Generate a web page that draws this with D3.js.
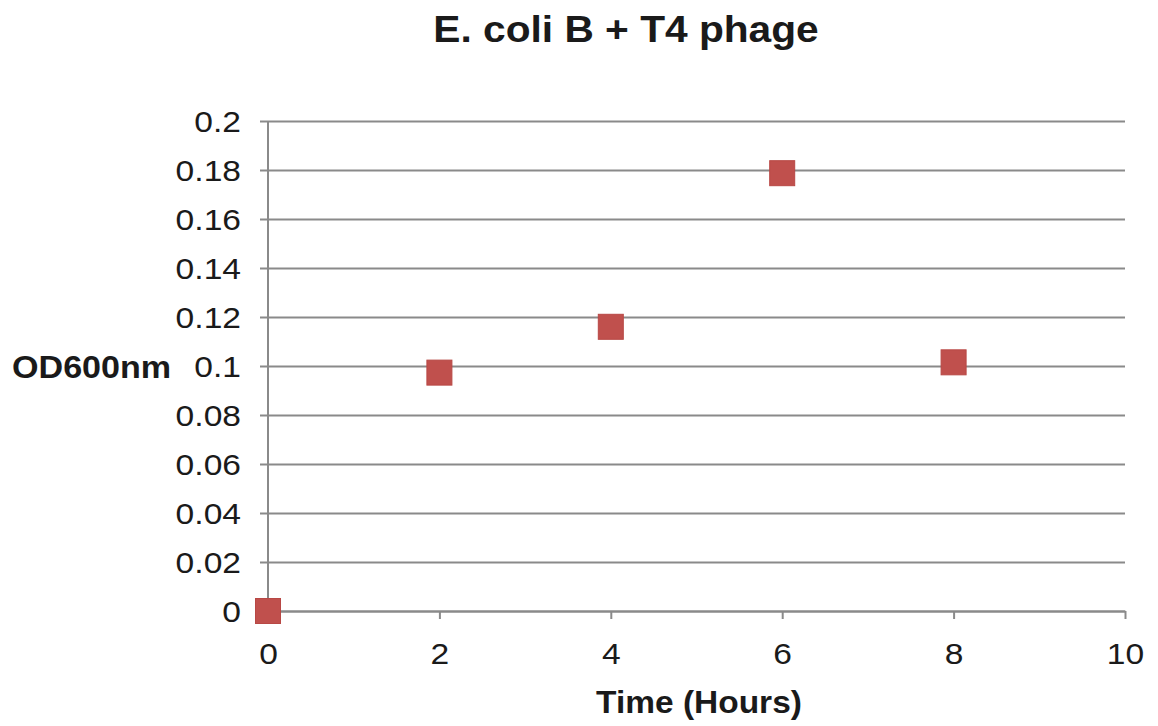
<!DOCTYPE html>
<html><head><meta charset="utf-8">
<script src="https://cdn.jsdelivr.net/npm/d3@7"></script>
<style>
html,body{margin:0;padding:0;background:#fff;}
text{font-family:"Liberation Sans",Arial,sans-serif;fill:#1a1a1a;}
</style></head>
<body>
<svg id="chart" width="1158" height="726"></svg>
<script>
const title = "E. coli B + T4 phage";
const xLabel = "Time (Hours)";
const yLabel = "OD600nm";
const times = [0, 2, 4, 6, 8];
const od = [0, 0.0973, 0.116, 0.1787, 0.1015];
const xTicks = [0, 2, 4, 6, 8, 10];
const yTicks = [0, 0.02, 0.04, 0.06, 0.08, 0.1, 0.12, 0.14, 0.16, 0.18, 0.2];
const yTickLabels = ["0","0.02","0.04","0.06","0.08","0.1","0.12","0.14","0.16","0.18","0.2"];

const SX = 1.12; // horizontal stretch of the reference text
const svg = d3.select("#chart");
const mLeft = 268, mRight = 1125, mTop = 121, mBottom = 611;
const x = d3.scaleLinear().domain([0, 10]).range([mLeft, mRight]);
const y = d3.scaleLinear().domain([0, 0.2]).range([mBottom, mTop]);
const gridColor = "#8a8a8a";

// y axis with gridlines
const yAxis = d3.axisLeft(y).tickValues(yTicks)
  .tickFormat((d, i) => yTickLabels[i])
  .tickSize(-(mRight - mLeft)).tickPadding(0);
const gy = svg.append("g").attr("transform", `translate(${mLeft},0)`).call(yAxis);
gy.select(".domain").remove();
gy.selectAll(".tick line").attr("x1", -8).attr("stroke", gridColor).attr("stroke-width", 2);
gy.selectAll(".tick text")
  .attr("x", null).attr("dy", null)
  .attr("dominant-baseline", "central")
  .attr("transform", `translate(-27,0) scale(${SX},1)`)
  .style("font-size", "30px").attr("fill", "#222");

// vertical axis line
svg.append("line").attr("x1", mLeft).attr("x2", mLeft).attr("y1", mTop).attr("y2", mBottom)
  .attr("stroke", gridColor).attr("stroke-width", 2);

// x axis
const xAxis = d3.axisBottom(x).tickValues(xTicks).tickFormat(d3.format("d"))
  .tickSizeInner(8).tickSizeOuter(0).tickPadding(0);
const gx = svg.append("g").attr("transform", `translate(0,${mBottom})`).call(xAxis);
gx.select(".domain").attr("stroke", gridColor).attr("stroke-width", 2);
gx.selectAll(".tick line").attr("stroke", gridColor).attr("stroke-width", 2);
gx.selectAll(".tick text")
  .attr("y", null).attr("dy", null)
  .attr("transform", `translate(0,53) scale(${SX},1)`)
  .style("font-size", "30px").attr("fill", "#222");

// markers
const ms = 25;
svg.append("g").selectAll("rect").data(times.map((t, i) => [t, od[i]])).join("rect")
  .attr("x", d => x(d[0]) - ms / 2).attr("y", d => y(d[1]) - ms / 2)
  .attr("width", ms).attr("height", ms)
  .attr("fill", "#c0504d").attr("stroke", "#b84845").attr("stroke-width", 1);

// title
svg.append("text").attr("transform", `translate(626,42) scale(1.1,1)`)
  .attr("text-anchor", "middle").style("font-size", "37px").style("font-weight", "bold")
  .text(title);
// y label
svg.append("text").attr("transform", `translate(12,378) scale(1.1,1)`)
  .attr("text-anchor", "start").style("font-size", "31px").style("font-weight", "bold")
  .text(yLabel);
// x label
svg.append("text").attr("transform", `translate(699,713) scale(1.08,1)`)
  .attr("text-anchor", "middle").style("font-size", "31px").style("font-weight", "bold")
  .text(xLabel);
</script>
</body></html>
